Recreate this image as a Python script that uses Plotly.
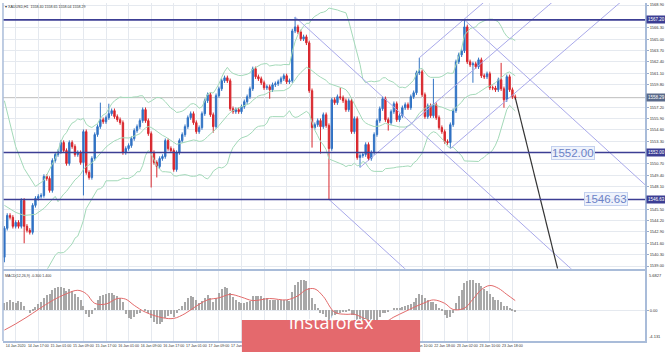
import plotly.graph_objects as go
import pandas as pd

# ---------------- data (XAUUSD H1) ----------------
closes = [
1543.32, 1544.80, 1544.58, 1543.55, 1544.00, 1543.55, 1546.52, 1543.55, 1543.09, 1542.86,
1545.95, 1546.75, 1546.98, 1547.09, 1549.26, 1549.03, 1547.66, 1551.09, 1551.77, 1552.12,
1553.15, 1552.23, 1550.75, 1553.15, 1552.69, 1551.77, 1552.00, 1550.86, 1554.40, 1549.72,
1549.15, 1551.32, 1554.06, 1554.97, 1555.77, 1555.54, 1556.00, 1556.46, 1556.80, 1556.12,
1555.77, 1555.43, 1552.00, 1552.46, 1552.80, 1553.60, 1554.52, 1554.97, 1555.66, 1556.92,
1555.66, 1554.17, 1552.00, 1550.86, 1550.40, 1551.32, 1551.55, 1553.37, 1552.46, 1552.23,
1550.06, 1552.00, 1553.37, 1554.06, 1554.97, 1556.00, 1556.46, 1555.43, 1554.40, 1554.86,
1556.46, 1557.94, 1558.63, 1556.34, 1554.97, 1558.52, 1559.31, 1560.23, 1560.57, 1560.23,
1557.03, 1556.69, 1556.92, 1556.69, 1557.26, 1557.83, 1558.40, 1559.31, 1561.60, 1560.69,
1560.46, 1560.00, 1559.43, 1559.54, 1559.20, 1559.77, 1559.89, 1560.11, 1560.46, 1560.80,
1560.11, 1560.23, 1565.94, 1566.40, 1565.83, 1565.03, 1565.26, 1564.57, 1559.09, 1554.86,
1555.20, 1555.66, 1554.97, 1556.34, 1555.09, 1552.46, 1558.06, 1557.72, 1558.40, 1558.29,
1557.94, 1556.92, 1557.94, 1554.40, 1555.89, 1551.43, 1551.66, 1551.77, 1552.92, 1551.32,
1552.00, 1554.06, 1555.66, 1557.03, 1558.17, 1555.77, 1555.43, 1556.69, 1557.60, 1555.77,
1556.23, 1557.14, 1557.49, 1557.14, 1558.40, 1558.86, 1561.14, 1561.26, 1558.63, 1556.12,
1557.37, 1556.23, 1557.49, 1556.00, 1554.86, 1554.40, 1553.26, 1553.15, 1555.20, 1556.80,
1562.40, 1563.20, 1563.66, 1566.40, 1562.40, 1562.06, 1562.17, 1561.83, 1562.63, 1560.80,
1560.69, 1561.03, 1559.43, 1559.40, 1559.20, 1560.34, 1559.31, 1558.06, 1560.69, 1559.20,
1558.40, 1558.29]

opens = [
1540.01, 1543.32, 1544.80, 1544.58, 1543.55, 1544.00, 1543.55, 1546.52, 1543.55, 1543.09,
1542.86, 1545.95, 1546.75, 1546.98, 1547.09, 1549.26, 1549.03, 1547.66, 1551.09, 1551.77,
1552.12, 1553.15, 1552.23, 1550.75, 1553.15, 1552.69, 1551.77, 1552.00, 1550.86, 1554.40,
1549.72, 1549.15, 1551.32, 1554.06, 1554.97, 1555.77, 1555.54, 1556.00, 1556.46, 1556.80,
1556.12, 1555.77, 1555.43, 1552.00, 1552.46, 1552.80, 1553.60, 1554.52, 1554.97, 1555.66,
1556.92, 1555.66, 1554.17, 1552.00, 1550.86, 1550.40, 1551.32, 1551.55, 1553.37, 1552.46,
1552.23, 1550.06, 1552.00, 1553.37, 1554.06, 1554.97, 1556.00, 1556.46, 1555.43, 1554.40,
1554.86, 1556.46, 1557.94, 1558.63, 1556.34, 1554.97, 1558.52, 1559.31, 1560.23, 1560.57,
1560.23, 1557.03, 1556.69, 1556.92, 1556.69, 1557.26, 1557.83, 1558.40, 1559.31, 1561.60,
1560.69, 1560.46, 1560.00, 1559.43, 1559.54, 1559.20, 1559.77, 1559.89, 1560.11, 1560.46,
1560.80, 1560.11, 1560.23, 1565.94, 1566.40, 1565.83, 1565.03, 1565.26, 1564.57, 1559.09,
1554.86, 1555.20, 1555.66, 1554.97, 1556.34, 1555.09, 1552.46, 1558.06, 1557.72, 1558.40,
1558.29, 1557.94, 1556.92, 1557.94, 1554.40, 1555.89, 1551.43, 1551.66, 1551.77, 1552.92,
1551.32, 1552.00, 1554.06, 1555.66, 1557.03, 1558.17, 1555.77, 1555.43, 1556.69, 1557.60,
1555.77, 1556.23, 1557.14, 1557.49, 1557.14, 1558.40, 1558.86, 1561.14, 1561.26, 1558.63,
1556.12, 1557.37, 1556.23, 1557.49, 1556.00, 1554.86, 1554.40, 1553.26, 1553.15, 1555.20,
1556.80, 1562.40, 1563.20, 1563.66, 1566.40, 1562.40, 1562.06, 1562.17, 1561.83, 1562.63,
1560.80, 1560.69, 1561.03, 1559.43, 1559.40, 1559.20, 1560.34, 1559.31, 1558.06, 1560.69,
1559.20, 1558.40]

# notable wick extremes (others use a short default wick)
HIGH_WICKS = {34: 1557.72, 37: 1557.60, 103: 1567.54, 119: 1559.43, 147: 1562.86,
              152: 1560.46, 163: 1567.20, 176: 1562.28}
LOW_WICKS = {0: 1539.43, 7: 1541.61, 28: 1547.09, 52: 1548.00, 54: 1549.15, 74: 1554.28,
             94: 1558.17, 109: 1552.57, 112: 1551.89, 115: 1546.63, 126: 1550.29,
             136: 1554.52, 158: 1552.46, 166: 1560.00, 177: 1557.14}
DEFAULT_WICK = 0.25

# Bollinger bands before a full 20-bar window exists
BB_HEAD_IDX = [0, 4, 7, 11, 14, 18]
BB_HEAD_UPPER = [1557.94, 1552.69, 1550.17, 1548.12, 1548.80, 1551.32]
BB_HEAD_MID = [1545.95, 1545.15, 1544.80, 1544.92, 1545.60, 1546.98]
BB_HEAD_LOWER = [1532.81, 1534.52, 1535.66, 1536.81, 1537.95, 1540.23]

# MACD(12,26,9) histogram (main line) read per bar
macd_hist = [
1.0, 1.2, 1.4, 1.2, 1.0, 1.3, 1.1, 0.6,
0.0, -0.4, -0.2,
0.4, 0.8, 1.2, 1.8, 2.2, 2.3,
2.9, 3.2, 3.3, 3.4, 3.2, 2.8, 3.0, 2.8,
2.3, 1.9, 1.4, 0.6,
-0.6, -1.1, -0.6, 0.2,
1.4, 2.0, 2.2, 2.3, 2.4, 2.4, 2.2, 2.0, 1.8,
1.2, -0.6, -1.2, -1.3, -1.0, -0.6,
-0.4, 0.0, -0.2, -0.5,
-1.2, -1.8, -2.1, -2.0, -1.8, -1.2,
-0.9, -0.6, -1.0, -0.5, 0.1,
0.6, 1.2, 1.8, 2.1, 1.9, 1.4,
1.0, 1.3, 1.8, 2.2, 1.8, 1.2,
1.8, 2.4, 3.0, 3.3, 3.2,
2.4, 1.9, 1.5, 1.2, 1.0, 1.0, 1.1, 1.3,
2.0, 2.1, 2.1, 2.0, 1.8, 1.7, 1.5, 1.5, 1.4, 1.4, 1.4, 1.5, 1.4, 1.3,
2.6, 3.6, 4.1, 4.3, 4.4, 4.2,
3.2, 1.8, 0.9, 0.2, -0.4, -0.6, -1.0, -1.8,
-1.2, -0.9, -0.6, -0.4, -0.3, -0.3, -0.2, -0.7, -0.8,
-1.6, -2.0, -2.2, -2.2, -2.4, -2.4, -2.0,
-1.5, -1.0, -0.5, -0.4, -0.3, 0.0, 0.3, 0.2, 0.3, 0.5, 0.6, 0.7, 0.9, 1.1,
1.8, 2.3, 2.2, 1.7, 1.5, 1.2, 1.2,
0.8, 0.3, -0.2, -0.8, -1.2, -1.0, -0.5,
1.0, 2.0, 2.9, 4.0, 4.2, 4.3, 4.3,
4.0, 3.9, 3.5, 3.1, 2.8, 2.3, 1.9, 1.5, 1.4,
1.1, 0.6, 0.6, 0.3, -0.1, -0.3]

# MACD signal line read at anchor bars
SIG_IDX = [0, 4, 8, 12, 17, 22, 26, 29, 32, 36, 40, 43, 46, 50, 56, 60, 64, 68, 72, 76, 80,
           84, 88, 94, 100, 104, 107, 110, 113, 117, 121, 124, 128, 131, 135, 138, 142, 145,
           149, 152, 156, 159, 163, 166, 169, 172, 175, 178, 181]
SIG_VAL = [-2.9, -2.0, -1.0, 0.1, 1.4, 2.4, 2.9, 2.4, 1.0, 0.9, 1.7, 1.6, 0.7, -0.3, -1.1,
           -1.2, -0.5, 0.6, 1.5, 1.8, 2.3, 1.9, 1.4, 1.7, 1.5, 2.1, 3.0, 3.1, 2.0, -0.3, -0.6,
           -0.6, -1.3, -1.8, -1.7, -1.0, -0.2, 0.4, 1.1, 1.5, 1.0, 0.1, 0.3, 1.6, 3.0, 3.6,
           3.2, 2.3, 1.4]

# horizontal levels and drawings
LEVELS = [1567.20, 1552.00, 1546.63]
TEXT_LEVELS = [1552.00, 1546.63]
TEXT_LEVEL_X = [201.4, 213.0]
DESC_FORK = [(103, 1567.54), (115, 1546.63), (163, 1567.20)]
ASC_FORK = [(126, 1550.29), (147, 1562.86), (158, 1552.46)]
ARROW_IDX = [181, 196]
ARROW_PRICE = [1558.29, 1538.70]

PRICE_TICKS = [1539.00, 1540.30, 1541.60, 1542.90, 1544.20, 1545.50, 1548.10, 1549.40,
               1550.70, 1553.30, 1554.60, 1555.90, 1557.20, 1559.80, 1561.10, 1562.40,
               1563.70, 1565.00, 1566.30, 1568.90]
TIME_TICK_IDX = [4, 12, 20, 28, 36, 44, 52, 60, 68, 76, 84, 92, 100, 108, 116, 124, 132,
                 140, 148, 156, 164, 172, 180]
TIME_LABELS = ["14 Jan 2020", "14 Jan 17:00", "15 Jan 01:00", "15 Jan 09:00", "15 Jan 17:00",
               "16 Jan 01:00", "16 Jan 09:00", "16 Jan 17:00", "17 Jan 01:00", "17 Jan 09:00",
               "17 Jan 17:00", "20 Jan 02:00", "20 Jan 10:00", "20 Jan 18:00", "21 Jan 02:00",
               "21 Jan 10:00", "21 Jan 18:00", "22 Jan 02:00", "22 Jan 10:00", "22 Jan 18:00",
               "23 Jan 02:00", "23 Jan 10:00", "23 Jan 18:00"]
MACD_MAX_LABEL = "5.6827"
MACD_MIN_LABEL = "-4.131"

# ---------------- derived ----------------
N = len(closes)
idx = list(range(N))
highs = [HIGH_WICKS.get(i, max(o, c) + DEFAULT_WICK) for i, (o, c) in enumerate(zip(opens, closes))]
lows = [LOW_WICKS.get(i, min(o, c) - DEFAULT_WICK) for i, (o, c) in enumerate(zip(opens, closes))]

s = pd.Series(closes)
mid = s.rolling(20).mean()
sd = s.rolling(20).std(ddof=0)
upper = mid + 2 * sd
lower = mid - 2 * sd
bb_x = BB_HEAD_IDX + idx[19:]
bb_u = BB_HEAD_UPPER + list(upper[19:])
bb_m = BB_HEAD_MID + list(mid[19:])
bb_l = BB_HEAD_LOWER + list(lower[19:])

# ---------------- styling ----------------
W, H = 665, 352
BULL = "#3173c4"
BEAR = "#d8262c"
LEVEL_C = "#3c3e94"
FORK_C = "#a9a9ea"
BB_C = "#a3d9b8"
GRID_C = "#e5e9ef"
FRAME_C = "#a9bcd9"
X_END = 227.0
Y_LO, Y_HI = 1538.69, 1569.14


def pxx(p):
    return p / W


def pxy(p):
    return 1 - p / H


fig = go.Figure()

fig.add_trace(go.Candlestick(
    x=idx, open=opens, high=highs, low=lows, close=closes,
    increasing=dict(line=dict(color=BULL, width=1), fillcolor=BULL),
    decreasing=dict(line=dict(color=BEAR, width=1), fillcolor=BEAR),
    whiskerwidth=0, showlegend=False, hoverinfo="skip", xaxis="x", yaxis="y"))

for ys in (bb_u, bb_m, bb_l):
    fig.add_trace(go.Scatter(x=bb_x, y=ys, mode="lines", line=dict(color=BB_C, width=1),
                             showlegend=False, hoverinfo="skip", xaxis="x", yaxis="y"))


def fork_lines(p1, p2, p3, x_end):
    mx = (p2[0] + p3[0]) / 2
    my = (p2[1] + p3[1]) / 2
    slope = (my - p1[1]) / (mx - p1[0])
    return [([x0, x_end], [y0, y0 + slope * (x_end - x0)]) for (x0, y0) in (p1, p2, p3)]


for fork in (DESC_FORK, ASC_FORK):
    for xs, ys in fork_lines(*fork, 260):
        fig.add_trace(go.Scatter(x=xs, y=ys, mode="lines", line=dict(color=FORK_C, width=1),
                                 showlegend=False, hoverinfo="skip", xaxis="x", yaxis="y"))

fig.add_trace(go.Scatter(x=ARROW_IDX, y=ARROW_PRICE, mode="lines",
                         line=dict(color="#333333", width=1.2),
                         showlegend=False, hoverinfo="skip", xaxis="x", yaxis="y"))

# MACD panel
fig.add_trace(go.Bar(x=idx, y=macd_hist, width=0.38, marker=dict(color="#a8a8a8", line=dict(width=0)),
                     showlegend=False, hoverinfo="skip", xaxis="x2", yaxis="y2"))
fig.add_trace(go.Scatter(x=SIG_IDX, y=SIG_VAL, mode="lines", line=dict(color="#e26a6a", width=1, shape="spline"),
                         showlegend=False, hoverinfo="skip", xaxis="x2", yaxis="y2"))

shapes = []
for lv in LEVELS:
    shapes.append(dict(type="line", xref="x domain", x0=0, x1=1, yref="y", y0=lv, y1=lv,
                       line=dict(color=LEVEL_C, width=1.6), layer="above"))
shapes.append(dict(type="line", xref="x domain", x0=0, x1=1, yref="y", y0=closes[-1], y1=closes[-1],
                   line=dict(color="#bdbdbd", width=1), layer="below"))
# left frame border
shapes.append(dict(type="line", xref="paper", x0=pxx(3), x1=pxx(3), yref="paper", y0=pxy(341), y1=pxy(2),
                   line=dict(color=FRAME_C, width=1.5)))
# instaforex logo block
shapes.append(dict(type="rect", xref="paper", yref="paper", x0=pxx(243), x1=pxx(422), y0=0, y1=pxy(320),
                   fillcolor="#e4696d", line=dict(width=0), layer="above"))

ann = []
for lv in LEVELS + [closes[-1]]:
    ann.append(dict(x=pxx(648.5), xref="paper", xanchor="left", y=lv, yref="y", yanchor="middle",
                    text=f"{lv:.2f}", showarrow=False, font=dict(size=4.5, color="white", family="Liberation Sans"),
                    bgcolor=LEVEL_C if lv in LEVELS else "#5a6a8a", borderpad=1))
for lv, xi in zip(TEXT_LEVELS, TEXT_LEVEL_X):
    ann.append(dict(x=xi, xref="x", y=lv, yref="y", text=f"{lv:.2f}", showarrow=False,
                    font=dict(size=11.5, color="#6c82c6", family="Liberation Sans"),
                    bgcolor="rgba(238,242,252,0.92)", bordercolor="#c3d0ee", borderwidth=1, borderpad=0))
ann.append(dict(x=pxx(3), xref="paper", xanchor="left", y=pxy(2), yref="paper", yanchor="top",
                text=f"▾ XAUUSD,H1  {opens[-1]:.2f} {highs[-1]:.2f} {lows[-1]:.2f} {closes[-1]:.2f}",
                showarrow=False, font=dict(size=3.6, color="#333", family="Liberation Sans")))
ann.append(dict(x=pxx(3), xref="paper", xanchor="left", y=pxy(271.5), yref="paper", yanchor="top",
                text=f"MACD(12,26,9) {macd_hist[-1]:.3f} {SIG_VAL[-1]:.3f}",
                showarrow=False, font=dict(size=3.6, color="#333", family="Liberation Sans")))
ann.append(dict(x=pxx(650), xref="paper", xanchor="left", y=pxy(271), yref="paper", yanchor="top",
                text=MACD_MAX_LABEL, showarrow=False, font=dict(size=4, color="#333", family="Liberation Sans")))
ann.append(dict(x=pxx(650), xref="paper", xanchor="left", y=pxy(341), yref="paper", yanchor="bottom",
                text=MACD_MIN_LABEL, showarrow=False, font=dict(size=4, color="#333", family="Liberation Sans")))
ann.append(dict(x=pxx(332.5), xref="paper", y=pxy(336), yref="paper", text="instaforex", showarrow=False,
                font=dict(size=18, color="white", family="Open Sans")))

tickfont = dict(size=4, color="#333", family="Liberation Sans")

fig.update_layout(
    width=W, height=H, margin=dict(l=0, r=0, t=0, b=0),
    paper_bgcolor="white", plot_bgcolor="white", showlegend=False,
    bargap=0, shapes=shapes, annotations=ann,
    xaxis=dict(domain=[pxx(3), pxx(648)], range=[-0.5, X_END], anchor="y",
               showticklabels=False, tickvals=TIME_TICK_IDX, showgrid=True, gridcolor=GRID_C,
               gridwidth=1, zeroline=False, showline=True, linecolor=FRAME_C, linewidth=1.5,
               rangeslider=dict(visible=False), ticks=""),
    yaxis=dict(domain=[pxy(268.5), pxy(2)], range=[Y_LO, Y_HI], anchor="x", side="right",
               tickvals=PRICE_TICKS, ticktext=[f"{v:.2f}" for v in PRICE_TICKS], tickfont=tickfont,
               showgrid=True, gridcolor=GRID_C, zeroline=False, showline=True, linecolor=FRAME_C,
               linewidth=1.5, ticks="outside", ticklen=2, tickcolor="#9aaccc"),
    xaxis2=dict(domain=[pxx(3), pxx(648)], range=[-0.5, X_END], anchor="y2",
                tickvals=TIME_TICK_IDX, ticktext=TIME_LABELS,
                tickfont=dict(size=3.6, color="#333", family="Liberation Sans"), tickangle=0,
                showgrid=True, gridcolor=GRID_C, zeroline=False, showline=True, mirror=True,
                linecolor=FRAME_C, linewidth=1.5, ticks=""),
    yaxis2=dict(domain=[pxy(341), pxy(271)], range=[-4.5, 5.68], anchor="x2", side="right",
                tickvals=[0], ticktext=["0.00"], tickfont=tickfont, showgrid=True, gridcolor=GRID_C,
                zeroline=False, showline=True, linecolor=FRAME_C, linewidth=1.5,
                ticks="outside", ticklen=2, tickcolor="#9aaccc"),
)

fig.write_html("out.html")
